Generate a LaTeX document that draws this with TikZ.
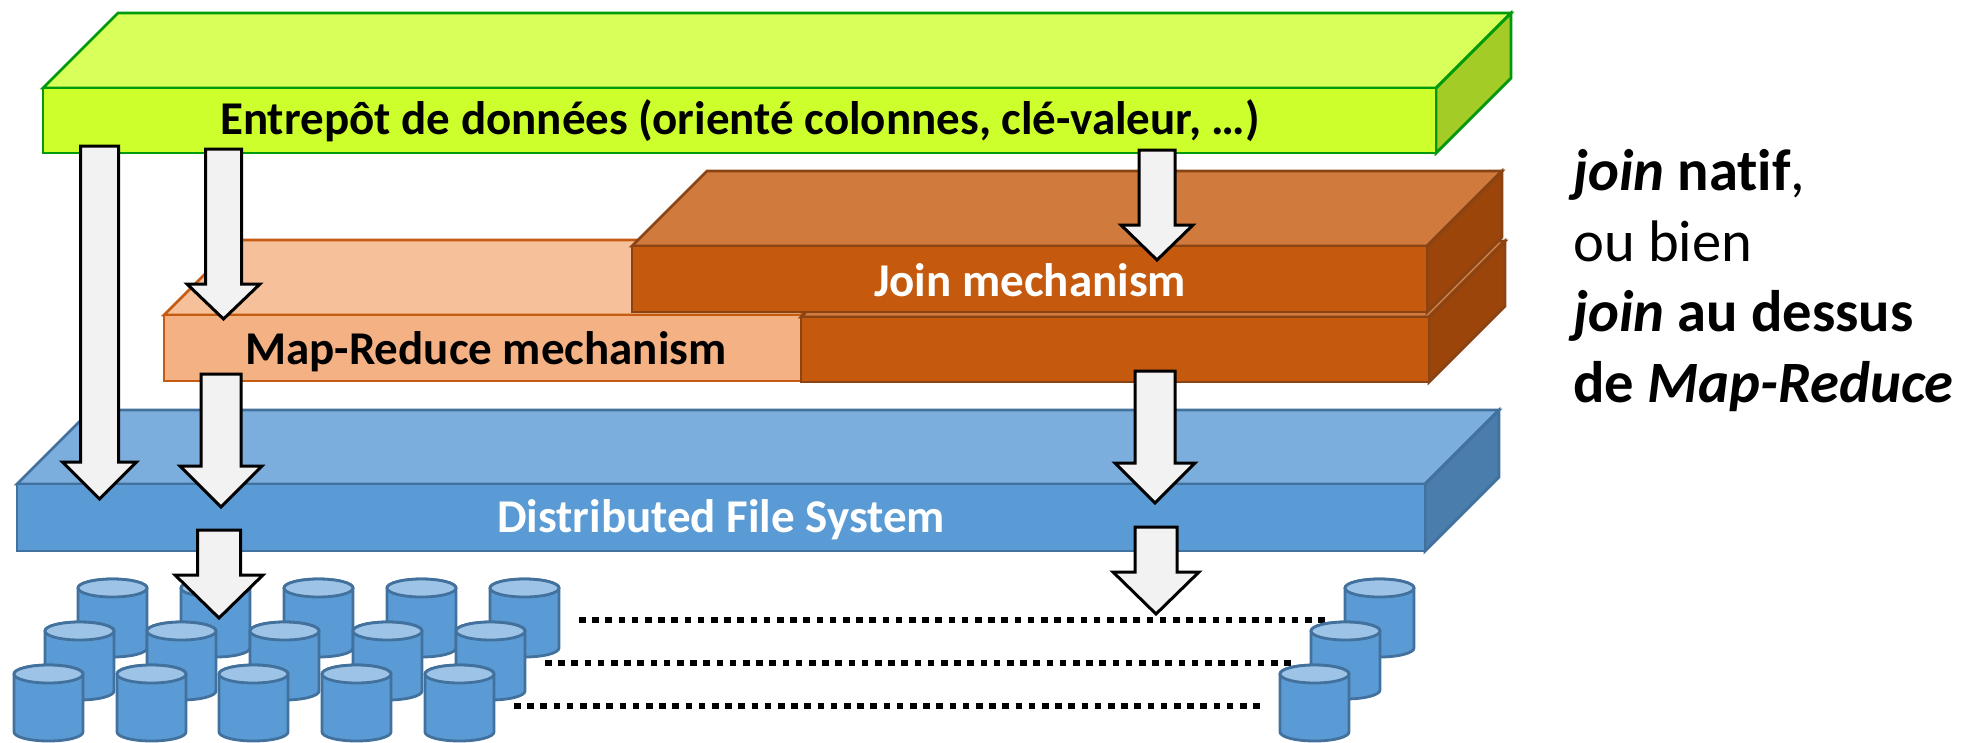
\documentclass[tikz,border=0pt]{standalone}
\usepackage{fontspec}
\setmainfont[Ligatures=NoCommon]{Carlito}
\definecolor{gTop}{HTML}{D9FF5A}\definecolor{gFront}{HTML}{CCFF2C}\definecolor{gSide}{HTML}{A3CC26}\definecolor{gLine}{HTML}{009A0A}
\definecolor{oTop}{HTML}{F6C09A}\definecolor{oFront}{HTML}{F4B183}\definecolor{oLine}{HTML}{C55A11}
\definecolor{dTop}{HTML}{D07A3E}\definecolor{dFront}{HTML}{C55A0F}\definecolor{dSide}{HTML}{9C450B}\definecolor{dLine}{HTML}{8A4414}
\definecolor{bTop}{HTML}{7CAEDD}\definecolor{bFront}{HTML}{5B9BD5}\definecolor{bSide}{HTML}{4A7DAC}\definecolor{bLine}{HTML}{41719C}
\definecolor{cTop}{HTML}{9DC3E6}\definecolor{aFill}{HTML}{F2F2F2}
% slab: left right top bottom dx backtop fronttop frontfill sidefill line
\newcommand{\slab}[9]{%
  \filldraw[fill=#6,draw=#9,slabline] (#1,#3) -- (#1+#5,#3-#5*1) -- (#2+#5,#3-#5*1) -- (#2,#3) -- cycle;
  \filldraw[fill=#8,draw=#9,slabline] (#2,#3) -- (#2+#5,#3-#5*1) -- (#2+#5,#4-#5*1) -- (#2,#4) -- cycle;
  \filldraw[fill=#7,draw=#9,slabline] (#1,#3) rectangle (#2,#4);}
% blockarrow: cx halfshaft halfhead top heady tip
\newcommand{\blockarrow}[6]{%
  \filldraw[blockline] (#1-#2,#4) -- (#1+#2,#4) -- (#1+#2,#5) -- (#1+#3,#5) -- (#1,#6) -- (#1-#3,#5) -- (#1-#2,#5) -- cycle;}
% drum: left top bottom
\newcommand{\drum}[3]{%
  \filldraw[fill=bFront,drumline] (#1,#2+9) -- (#1,#3-9) arc[start angle=180,end angle=0,x radius=34.5,y radius=9] -- (#1+69,#2+9) arc[start angle=0,end angle=-180,x radius=34.5,y radius=9] -- cycle;
  \filldraw[fill=cTop,drumline] (#1+34.5,#2+9) ellipse[x radius=34.5,y radius=9];}
\tikzset{
  x=1pt,y=-1pt,
  slabline/.style={line width=2.8pt,line join=miter},
  blockline/.style={fill=aFill,draw=black,line width=3pt,line join=miter},
  drumline/.style={draw=bLine,line width=2.8pt},
  dotline/.style={line width=6.5pt,dash pattern=on 6.5pt off 6.7pt},
  lab/.style={font=\fontsize{47}{56}\selectfont\bfseries,inner sep=0pt},
  side/.style={font=\fontsize{58.6}{66}\selectfont,inner sep=0pt,anchor=base west},
}
\begin{document}
\begin{tikzpicture}
\useasboundingbox (0,0) rectangle (1975,742);
% Map-Reduce slab
\filldraw[fill=oTop,draw=oLine,slabline] (164,315) -- (239,240) -- (877,240) -- (801,315) -- cycle;
\filldraw[fill=oFront,draw=oLine,slabline] (164,315) rectangle (801,381);
% Lower and upper join slabs
\slab{801}{1429}{317}{382}{76}{dTop}{dFront}{dSide}{dLine}
\slab{632}{1427}{246}{312}{75}{dTop}{dFront}{dSide}{dLine}
% Green slab
\slab{43}{1436}{88}{153}{75}{gTop}{gFront}{gSide}{gLine}
% Blue slab
\slab{17}{1425}{484}{551}{74}{bTop}{bFront}{bSide}{bLine}
% dotted rows
\coordinate (d1a) at (579,620); \coordinate (d1b) at (1327,620);
\coordinate (d2a) at (545,663); \coordinate (d2b) at (1293,663);
\coordinate (d3a) at (514,706); \coordinate (d3b) at (1262,706);
\draw[dotline] (d1a) -- (d1b);
\draw[dotline] (d2a) -- (d2b);
\draw[dotline] (d3a) -- (d3b);
% cylinders
\foreach \x in {78,181,284,387,490} {\drum{\x}{579}{657}}
\foreach \x in {45,147,250,353,456} {\drum{\x}{622}{700}}
\foreach \x in {14,117,219,322,425} {\drum{\x}{665}{741}}
\drum{1345}{579}{657}
\drum{1311}{622}{699}
\drum{1280}{665}{741}
% labels
\node[lab] (entrepot) at (740,121) {Entrepôt de données (orienté colonnes, clé-valeur, …)};
\node[lab] (mapreduce) at (486,352) {Map-Reduce mechanism};
\node[lab,text=white] (joinm) at (1030,280) {Join mechanism};
\node[lab,text=white] (dfs) at (721,520) {Distributed File System};
% block arrows
\blockarrow{99.5}{19}{37}{146}{462}{499}
\blockarrow{223.5}{18}{36.5}{149}{284}{319}
\blockarrow{1157}{18}{36}{150}{225}{260}
\blockarrow{221}{20}{41}{374}{466}{507}
\blockarrow{1155}{20}{40}{371}{463}{503}
\blockarrow{1156}{21}{43}{527}{572}{614}
\blockarrow{219}{21.5}{44}{530}{575}{618}
% side text
\node[side] (t1) at (1573,190) {\textbf{\textit{join} natif},};
\node[side] (t2) at (1573,261) {ou bien};
\node[side] (t3) at (1573,331) {\textbf{\textit{join} au dessus}};
\node[side] (t4) at (1573,402) {\textbf{de \textit{Map-Reduce}}};
\end{tikzpicture}
\end{document}
